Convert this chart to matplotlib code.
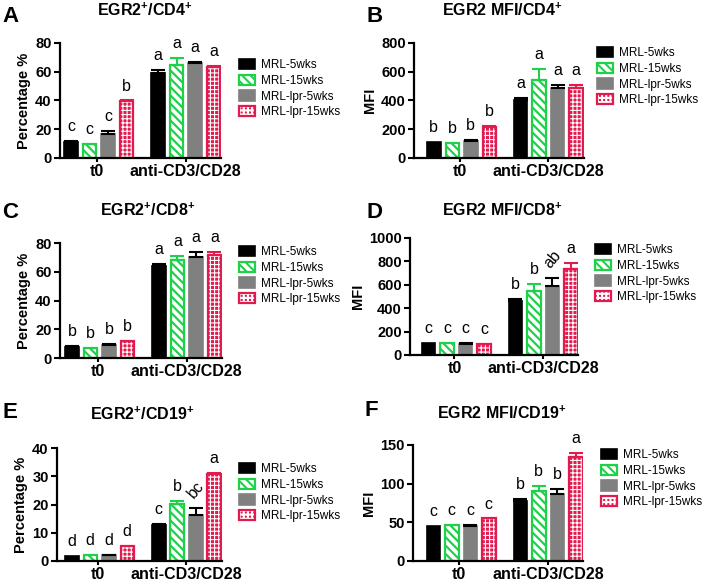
import numpy as np
import matplotlib.pyplot as plt
from matplotlib.legend_handler import HandlerTuple

plt.rcParams['font.family'] = ['Liberation Sans', 'DejaVu Sans']
plt.rcParams['mathtext.fontset'] = 'custom'
plt.rcParams['mathtext.rm'] = 'Liberation Sans'
plt.rcParams['mathtext.bf'] = 'Liberation Sans:bold'
plt.rcParams['mathtext.default'] = 'bf'
plt.rcParams['hatch.linewidth'] = 1.5

# data
groups = ['t0', 'anti-CD3/CD28']
strains = ['MRL-5wks', 'MRL-15wks', 'MRL-lpr-5wks', 'MRL-lpr-15wks']

# A: EGR2+ / CD4+ (%)
a_mean = [11, 10, 17, 39.5, 59, 65, 66, 63]
a_err = [0.8, 0, 1.5, 0.5, 2.5, 4.5, 1, 1]
a_sig = ['c', 'c', 'c', 'b', 'a', 'a', 'a', 'a']

# B: EGR2 MFI / CD4+
b_mean = [110, 105, 118, 215, 400, 540, 490, 485]
b_err = [0, 0, 8, 5, 20, 80, 20, 25]
b_sig = ['b', 'b', 'b', 'b', 'a', 'a', 'a', 'a']

# C: EGR2+ / CD8+ (%)
c_mean = [8, 7, 9, 12, 64, 68, 70, 72]
c_err = [0.5, 0, 0.5, 0, 1.5, 3, 4, 1.5]
c_sig = ['b', 'b', 'b', 'b', 'a', 'a', 'a', 'a']

# D: EGR2 MFI / CD8+
d_mean = [105, 100, 97, 95, 460, 545, 590, 735]
d_err = [0, 0, 5, 0, 15, 60, 70, 55]
d_sig = ['c', 'c', 'c', 'c', 'b', 'b', 'ab', 'a']

# E: EGR2+ / CD19+ (%)
e_mean = [1.8, 2.2, 2.0, 5.2, 12.6, 20.2, 16.2, 30.7]
e_err = [0, 0, 0.2, 0, 0.5, 1.0, 2.5, 0.5]
e_sig = ['d', 'd', 'd', 'd', 'c', 'b', 'bc', 'a']

# F: EGR2 MFI / CD19+
f_mean = [45, 47, 45, 55, 78, 91, 87, 135]
f_err = [0, 0, 1, 0, 2, 6, 6, 5]
f_sig = ['c', 'c', 'c', 'c', 'b', 'b', 'b', 'a']

titles = ['EGR2$^{+}$/CD4$^{+}$', 'EGR2 MFI/CD4$^{+}$',
          'EGR2$^{+}$/CD8$^{+}$', 'EGR2 MFI/CD8$^{+}$',
          'EGR2$^{+}$/CD19$^{+}$', 'EGR2 MFI/CD19$^{+}$']
ylabels = ['Percentage %', 'MFI', 'Percentage %', 'MFI', 'Percentage %', 'MFI']
yticks = [[0, 20, 40, 60, 80], [0, 200, 400, 600, 800],
          [0, 20, 40, 60, 80], [0, 200, 400, 600, 800, 1000],
          [0, 10, 20, 30, 40], [0, 50, 100, 150]]
means = [a_mean, b_mean, c_mean, d_mean, e_mean, f_mean]
errs = [a_err, b_err, c_err, d_err, e_err, f_err]
sigs = [a_sig, b_sig, c_sig, d_sig, e_sig, f_sig]
letters = ['A', 'B', 'C', 'D', 'E', 'F']

# layout in pixels: axes left, top, bottom, x-left limit; legend x,y; title x,y; letter x,y
W, H = 709, 585
layout = [
    (60, 43, 158, -0.6, 239, 59, 145, 10, 2, 16),
    (414, 43, 158, -1.07, 597, 47, 502, 10, 366, 17),
    (60, 243, 358, -0.65, 239, 246, 148, 210, 2, 212),
    (410, 238, 355, -1.0, 595, 244, 502, 210, 366, 212),
    (57, 448, 561, -0.8, 239, 463, 142, 414, 2, 413),
    (413, 445, 561, -1.1, 601, 449, 502, 413, 364, 411),
]

black = '#000000'
green = '#1fd14a'
gray = '#808080'
red = '#e31a4e'
unit_px = 18.5
bw = 0.73
x_pos = np.concatenate([np.arange(4), np.arange(4) + 4.7])
xmax = 8.1


def hatched_bar(ax, x, h, hlw, **kw):
    with plt.rc_context({'hatch.linewidth': hlw}):
        b = ax.bar(x, h, bw, **kw)
    for p in b:
        if hasattr(p, 'set_hatch_linewidth'):
            p.set_hatch_linewidth(hlw)
    return b


fig = plt.figure(figsize=(W / 100, H / 100), dpi=100)

for k in range(6):
    left, top, bottom, xmin, lx, ly, tx, ty, px, py = layout[k]
    width = (xmax - xmin) * unit_px
    ax = fig.add_axes([left / W, 1 - bottom / H, width / W, (bottom - top) / H])
    vals = means[k]
    handles = []
    for i in range(8):
        s = i % 4
        x = x_pos[i]
        if s == 0:
            h = ax.bar(x, vals[i], bw, color=black, edgecolor=black, linewidth=1.2)
            ec = black
        elif s == 1:
            h = hatched_bar(ax, x, vals[i], 1.6, color='white', edgecolor=green,
                            hatch='\\\\\\\\', linewidth=1.6)
            ec = green
        elif s == 2:
            h = ax.bar(x, vals[i], bw, color=gray, edgecolor=gray, linewidth=1.2)
            ec = black
        else:
            h1 = hatched_bar(ax, x, vals[i], 0.8, color=red, edgecolor='white',
                             hatch='++++', linewidth=0)
            h2 = ax.bar(x, vals[i], bw, color='none', edgecolor=red, linewidth=1.6)
            h = (h1[0], h2[0])
            ec = red
        if i < 4:
            handles.append(h if isinstance(h, tuple) else h[0])
        top_val = vals[i] + errs[k][i]
        if errs[k][i] > 0:
            ax.errorbar(x, vals[i], yerr=[[0], [errs[k][i]]], fmt='none', ecolor=ec,
                        elinewidth=1.5, capsize=5, capthick=1.5, zorder=1)
        rot = 50 if len(sigs[k][i]) > 1 else 0
        ax.annotate(sigs[k][i], (x, top_val), xytext=(0, 5), textcoords='offset points',
                    ha='center', va='bottom', fontsize=11.5, rotation=rot,
                    annotation_clip=False)

    ax.set_xlim(xmin, xmax)
    ax.set_ylim(0, yticks[k][-1])
    ax.set_yticks(yticks[k], [str(t) for t in yticks[k]], fontweight='bold', fontsize=10.5)
    ax.set_xticks([1.4, 6.2], groups, fontweight='bold', fontsize=11.5)
    ax.set_ylabel(ylabels[k], fontweight='bold', fontsize=10.5, labelpad=3)
    for sp in ['top', 'right']:
        ax.spines[sp].set_visible(False)
    for sp in ['left', 'bottom']:
        ax.spines[sp].set_linewidth(1.6)
    ax.tick_params(axis='both', width=1.5, length=4, pad=2)
    ax.tick_params(axis='x', length=3, pad=1)

    ax.legend(handles, strains, loc='upper left', bbox_to_anchor=(lx / W, 1 - ly / H),
              bbox_transform=fig.transFigure, frameon=False, borderpad=0,
              borderaxespad=0, handlelength=1.35, handleheight=0.95,
              handletextpad=0.5, labelspacing=0.3, fontsize=8.5,
              handler_map={tuple: HandlerTuple(ndivide=1)})

    fig.text(tx / W, 1 - ty / H, titles[k], ha='center', va='center',
             fontsize=11.5, fontweight='bold')
    fig.text(px / W, 1 - py / H, letters[k], ha='left', va='center',
             fontsize=16, fontweight='bold')

fig.savefig('out.png', dpi=100)
